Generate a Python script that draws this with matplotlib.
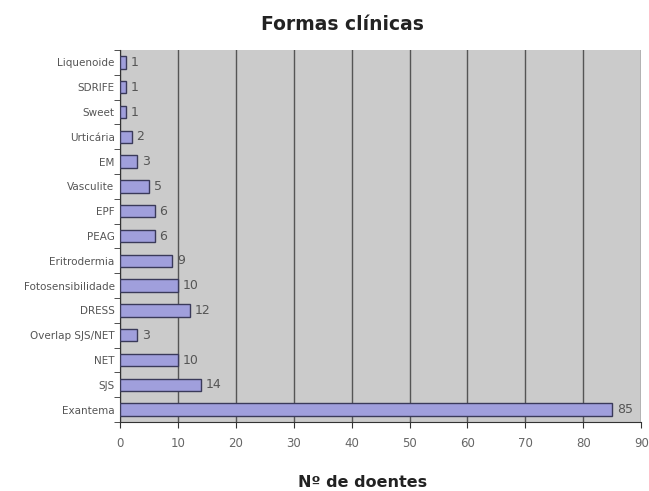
import matplotlib.pyplot as plt
import numpy as np

# Data (bottom to top as drawn)
categories = ['Exantema', 'SJS', 'NET', 'Overlap SJS/NET', 'DRESS', 'Fotosensibilidade',
              'Eritrodermia', 'PEAG', 'EPF', 'Vasculite', 'EM', 'Urticária',
              'Sweet', 'SDRIFE', 'Liquenoide']
values = [85, 14, 10, 3, 12, 10, 9, 6, 6, 5, 3, 2, 1, 1, 1]
xticks = [0, 10, 20, 30, 40, 50, 60, 70, 80, 90]

fig = plt.figure(figsize=(6.49, 4.91), dpi=100)
ax = fig.add_axes([0.185, 0.1405, 0.803, 0.7575])

y = np.arange(len(categories))
ax.set_facecolor('#cbcbcb')
ax.barh(y, values, height=0.5, color='#a09fdc', edgecolor='#3a3a5a', linewidth=1.0, zorder=3)

for yi, v in zip(y, values):
    ax.text(v + 0.8, yi, str(v), va='center', ha='left', fontsize=9, color='#555555', zorder=4)

ax.set_xlim(0, 90)
ax.set_ylim(-0.5, len(categories) - 0.5)
ax.set_xticks(xticks)
ax.set_xticklabels([str(t) for t in xticks], fontsize=8.5, color='#666666')
ax.set_yticks(y)
ax.set_yticklabels(categories, fontsize=7.5, color='#555555')
ax.set_yticks(np.arange(len(categories) + 1) - 0.5, minor=True)
ax.tick_params(axis='y', which='major', length=0, pad=4)
ax.tick_params(axis='y', which='minor', length=4, color='#333333')
ax.tick_params(axis='x', length=4, color='#333333', pad=7)
ax.xaxis.grid(True, color='#555555', linewidth=1.0, zorder=1)

for s in ['top', 'right']:
    ax.spines[s].set_visible(False)
ax.spines['left'].set_color('#333333')
ax.spines['bottom'].set_color('#333333')

fig.text(0.528, 0.951, 'Formas clínicas', fontsize=13.5, fontweight='bold',
         color='#222222', ha='center', va='center')
fig.text(0.558, 0.018, 'Nº de doentes', fontsize=11.5, fontweight='bold',
         color='#222222', ha='center', va='center')

plt.savefig('out.png', dpi=100)
